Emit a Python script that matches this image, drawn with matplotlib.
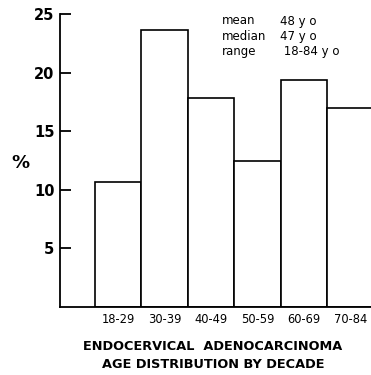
import matplotlib.pyplot as plt
import numpy as np

# age groups and percent of cases
age_groups = ["18-29", "30-39", "40-49", "50-59", "60-69", "70-84"]
percent = [10.7, 23.6, 17.8, 12.5, 19.4, 17.0]
y_ticks = [5, 10, 15, 20, 25]
stats_names = ["mean", "median", "range"]
stats_values = ["48 y o", "47 y o", " 18-84 y o"]

plt.rcParams['font.family'] = ['DejaVu Sans']

fig = plt.figure(figsize=(3.71, 3.75), dpi=100, facecolor='white')
ax = fig.add_axes([60/371, 1-307/375, 1-60/371, (307-14)/375])

x = np.arange(len(age_groups))
ax.bar(x, percent, width=1.0, color='white', edgecolor='black', linewidth=1.2, clip_on=True)

ax.set_xlim(-1.254, 5.448)
ax.set_ylim(0, 25)
ax.set_yticks(y_ticks)
ax.set_yticklabels([str(v) for v in y_ticks], fontsize=10.5, fontweight='bold')
ax.tick_params(axis='y', direction='in', length=8, width=1.3, pad=4)
ax.set_xticks(x)
ax.set_xticklabels(age_groups, fontsize=8.3)
ax.tick_params(axis='x', length=0, pad=4)

for s in ['top', 'right']:
    ax.spines[s].set_visible(False)
ax.spines['left'].set_linewidth(1.3)
ax.spines['bottom'].set_linewidth(1.3)

fig.text(20/371, 1-163/375, "%", fontsize=13, fontweight='bold', ha='center', va='center')

for i, (n, v) in enumerate(zip(stats_names, stats_values)):
    yy = 1 - (21 + 15.5*i)/375
    fig.text(222/371, yy, n, fontsize=8.5, ha='left', va='center')
    fig.text(280/371, yy, v, fontsize=8.5, ha='left', va='center')

fig.text(213/371, 1-347/375, "ENDOCERVICAL  ADENOCARCINOMA", fontsize=9.3, fontweight='bold', ha='center', va='center')
fig.text(213/371, 1-365/375, "AGE DISTRIBUTION BY DECADE", fontsize=9.3, fontweight='bold', ha='center', va='center')

fig.savefig("out.png", dpi=100)
